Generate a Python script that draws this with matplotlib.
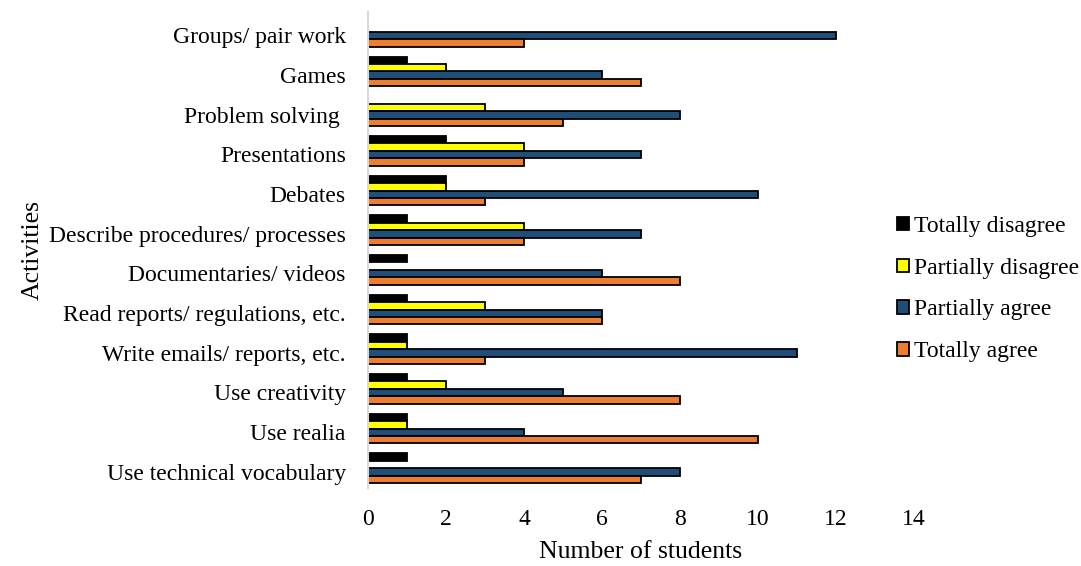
import numpy as np
import matplotlib.pyplot as plt
import matplotlib.transforms as mtransforms

plt.rcParams['font.family'] = ['Liberation Serif', 'DejaVu Serif']

# activities, top to bottom as read
activities = ['Groups/ pair work', 'Games', 'Problem solving ', 'Presentations',
              'Debates', 'Describe procedures/ processes', 'Documentaries/ videos',
              'Read reports/ regulations, etc.', 'Write emails/ reports, etc.',
              'Use creativity', 'Use realia', 'Use technical vocabulary']

totally_disagree   = [0, 1, 0, 2, 2, 1, 1, 1, 1, 1, 1, 1]
partially_disagree = [0, 2, 3, 4, 2, 4, 0, 3, 1, 2, 1, 0]
partially_agree    = [12, 6, 8, 7, 10, 7, 6, 6, 11, 5, 4, 8]
totally_agree      = [4, 7, 5, 4, 3, 4, 8, 6, 3, 8, 10, 7]

series = [('Totally disagree', totally_disagree, '#000000'),
          ('Partially disagree', partially_disagree, '#FFFF00'),
          ('Partially agree', partially_agree, '#1F4E79'),
          ('Totally agree', totally_agree, '#ED7D31')]

n = len(activities)
y = np.arange(n)[::-1]
h = 0.185

fig = plt.figure(figsize=(10.81, 5.66), dpi=100)
ax = fig.add_axes([368/1081, 1-488/566, (914-368)/1081, (488-12)/566])

for k, (name, vals, col) in enumerate(series):
    off = (1.5 - k) * h
    ax.barh(y + off, vals, height=h, color=col, edgecolor='black',
            linewidth=1.3, label=name)

ax.set_xlim(0, 14)
ax.set_ylim(-0.5, n - 0.5)
ax.set_xticks(range(0, 15, 2))
ax.set_yticks(y)
ax.set_yticklabels(activities)
ax.tick_params(axis='both', length=0, labelsize=17)
ax.tick_params(axis='y', pad=16)
ax.tick_params(axis='x', pad=15)

# nudge the category names a little lower
shift = mtransforms.ScaledTranslation(0, -3.5/100, fig.dpi_scale_trans)
for lab in ax.get_yticklabels():
    lab.set_transform(lab.get_transform() + shift)

for s in ['top', 'right', 'bottom']:
    ax.spines[s].set_visible(False)
ax.spines['left'].set_color('#d9d9d9')
ax.spines['left'].set_linewidth(1.5)

ax.set_xlabel('Number of students', fontsize=18.5, labelpad=8)
ax.set_ylabel('Activities', fontsize=18.5, labelpad=4)

leg = ax.legend(loc='center left', bbox_to_anchor=(0.969, 0.418), frameon=False,
                fontsize=17, handlelength=0.5, handleheight=0.5,
                handletextpad=0.2, labelspacing=0.88, borderpad=0,
                borderaxespad=0)

fig.savefig('out.png', dpi=100)
